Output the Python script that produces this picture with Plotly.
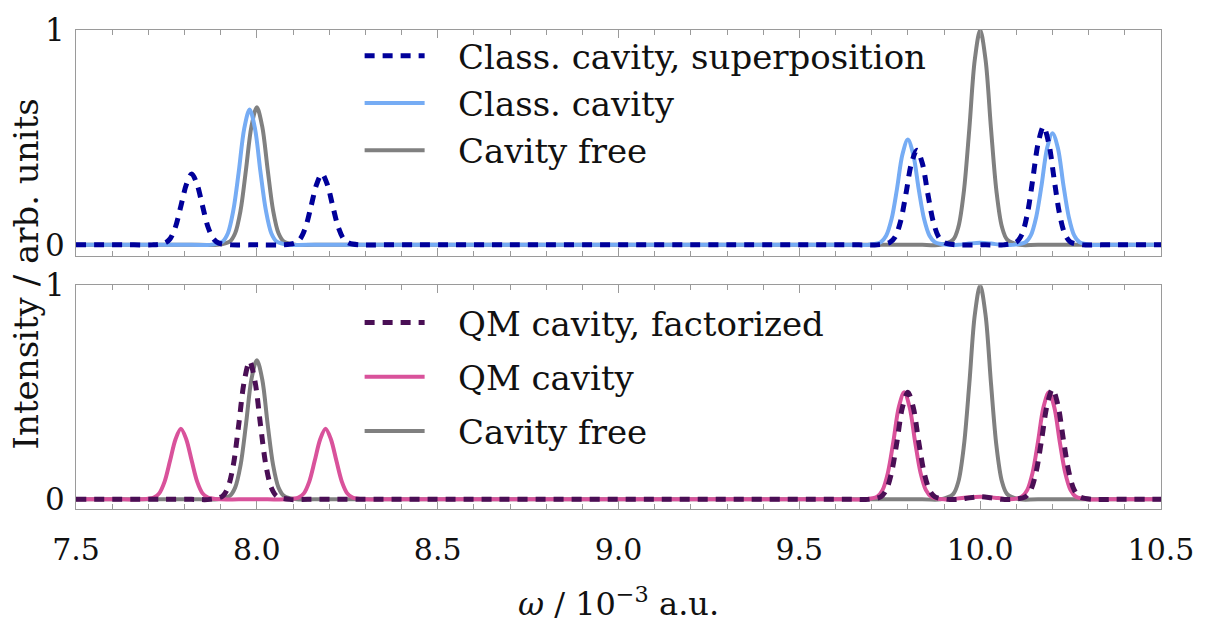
import plotly.graph_objects as go

# ---------------------------------------------------------------- data
# Spectra sampled along omega (10^-3 a.u.); intensities in arbitrary units.

# upper panel: classical cavity
free_top_x = [7.50, 7.84, 7.89,
              7.925, 7.94, 7.955, 7.97, 7.985, 8.00, 8.015, 8.03, 8.045, 8.06, 8.075,
              8.11, 8.16, 9.84, 9.89,
              9.925, 9.94, 9.955, 9.97, 9.985, 10.00, 10.015, 10.03, 10.045, 10.06, 10.075,
              10.11, 10.16, 10.50]
free_top_y = [0, 0, 0,
              0.015, 0.054, 0.16, 0.35, 0.55, 0.64, 0.55, 0.35, 0.16, 0.054, 0.015,
              0, 0, 0, 0,
              0.024, 0.085, 0.25, 0.54, 0.86, 1.0, 0.86, 0.54, 0.25, 0.085, 0.024,
              0, 0, 0]

class_x = [7.50, 7.82, 7.87,
           7.905, 7.92, 7.935, 7.95, 7.965, 7.98, 7.995, 8.01, 8.025, 8.04, 8.055,
           8.09, 8.14, 9.64, 9.69,
           9.725, 9.74, 9.755, 9.77, 9.785, 9.80, 9.815, 9.83, 9.845, 9.86, 9.875,
           9.91, 9.94, 9.97, 10.00, 10.03, 10.06, 10.09,
           10.125, 10.14, 10.155, 10.17, 10.185, 10.20, 10.215, 10.23, 10.245, 10.26, 10.275,
           10.31, 10.36, 10.50]
class_y = [0, 0, 0,
           0.015, 0.054, 0.16, 0.34, 0.54, 0.63, 0.54, 0.34, 0.16, 0.054, 0.015,
           0, 0, 0, 0,
           0.012, 0.042, 0.12, 0.26, 0.42, 0.49, 0.42, 0.26, 0.12, 0.042, 0.012,
           0, 0, 0.006, 0.01, 0.006, 0, 0,
           0.012, 0.044, 0.13, 0.28, 0.45, 0.52, 0.45, 0.28, 0.13, 0.044, 0.012,
           0, 0, 0]

superpos_x = [7.50, 7.66, 7.71,
              7.745, 7.76, 7.775, 7.79, 7.805, 7.82, 7.835, 7.85, 7.865, 7.88, 7.895,
              7.93, 7.98, 8.02, 8.07,
              8.105, 8.12, 8.135, 8.15, 8.165, 8.18, 8.195, 8.21, 8.225, 8.24, 8.255,
              8.29, 8.34, 9.665, 9.715,
              9.75, 9.765, 9.78, 9.795, 9.81, 9.825, 9.84, 9.855, 9.87, 9.885, 9.90,
              9.935, 9.985, 10.015, 10.065,
              10.10, 10.115, 10.13, 10.145, 10.16, 10.175, 10.19, 10.205, 10.22, 10.235, 10.25,
              10.285, 10.335, 10.50]
superpos_y = [0, 0, 0,
              0.008, 0.028, 0.083, 0.18, 0.28, 0.33, 0.28, 0.18, 0.083, 0.028, 0.008,
              0, 0, 0, 0,
              0.008, 0.028, 0.083, 0.18, 0.28, 0.33, 0.28, 0.18, 0.083, 0.028, 0.008,
              0, 0, 0, 0,
              0.011, 0.037, 0.11, 0.24, 0.38, 0.44, 0.38, 0.24, 0.11, 0.037, 0.011,
              0, 0, 0, 0,
              0.013, 0.047, 0.14, 0.30, 0.47, 0.55, 0.47, 0.30, 0.14, 0.047, 0.013,
              0, 0, 0]

# lower panel: quantum cavity
free_bot_x = [7.50, 7.84, 7.89,
              7.925, 7.94, 7.955, 7.97, 7.985, 8.00, 8.015, 8.03, 8.045, 8.06, 8.075,
              8.11, 8.16, 9.84, 9.89,
              9.925, 9.94, 9.955, 9.97, 9.985, 10.00, 10.015, 10.03, 10.045, 10.06, 10.075,
              10.11, 10.16, 10.50]
free_bot_y = [0, 0, 0,
              0.016, 0.055, 0.16, 0.35, 0.56, 0.65, 0.56, 0.35, 0.16, 0.055, 0.016,
              0, 0, 0, 0,
              0.024, 0.085, 0.25, 0.54, 0.86, 1.0, 0.86, 0.54, 0.25, 0.085, 0.024,
              0, 0, 0]

qm_x = [7.50, 7.63, 7.68,
        7.715, 7.73, 7.745, 7.76, 7.775, 7.79, 7.805, 7.82, 7.835, 7.85, 7.865,
        7.90, 7.95, 8.03, 8.08,
        8.115, 8.13, 8.145, 8.16, 8.175, 8.19, 8.205, 8.22, 8.235, 8.25, 8.265,
        8.30, 8.35, 9.63, 9.68,
        9.715, 9.73, 9.745, 9.76, 9.775, 9.79, 9.805, 9.82, 9.835, 9.85, 9.865,
        9.90, 9.95, 10.00, 10.05, 10.08,
        10.115, 10.13, 10.145, 10.16, 10.175, 10.19, 10.205, 10.22, 10.235, 10.25, 10.265,
        10.30, 10.35, 10.50]
qm_y = [0, 0, 0,
        0.008, 0.028, 0.083, 0.18, 0.28, 0.33, 0.28, 0.18, 0.083, 0.028, 0.008,
        0, 0, 0, 0,
        0.008, 0.028, 0.083, 0.18, 0.28, 0.33, 0.28, 0.18, 0.083, 0.028, 0.008,
        0, 0, 0, 0,
        0.012, 0.043, 0.125, 0.27, 0.43, 0.50, 0.43, 0.27, 0.125, 0.043, 0.012,
        0, 0.006, 0.012, 0.006, 0,
        0.012, 0.043, 0.125, 0.27, 0.43, 0.50, 0.43, 0.27, 0.125, 0.043, 0.012,
        0, 0, 0]

fact_x = [7.50, 7.82, 7.87,
          7.905, 7.92, 7.935, 7.95, 7.965, 7.98, 7.995, 8.01, 8.025, 8.04, 8.055,
          8.09, 8.14, 9.64, 9.69,
          9.725, 9.74, 9.755, 9.77, 9.785, 9.80, 9.815, 9.83, 9.845, 9.86, 9.875,
          9.91, 9.94, 9.97, 10.00, 10.03, 10.06, 10.09,
          10.125, 10.14, 10.155, 10.17, 10.185, 10.20, 10.215, 10.23, 10.245, 10.26, 10.275,
          10.31, 10.36, 10.50]
fact_y = [0, 0, 0,
          0.015, 0.055, 0.16, 0.35, 0.55, 0.645, 0.55, 0.35, 0.16, 0.055, 0.015,
          0, 0, 0, 0,
          0.012, 0.043, 0.125, 0.27, 0.43, 0.50, 0.43, 0.27, 0.125, 0.043, 0.012,
          0, 0, 0.007, 0.012, 0.007, 0, 0,
          0.012, 0.044, 0.13, 0.28, 0.44, 0.515, 0.44, 0.28, 0.13, 0.044, 0.012,
          0, 0, 0]

x_ticks = [7.5, 8.0, 8.5, 9.0, 9.5, 10.0, 10.5]
x_tick_text = ["7.5", "8.0", "8.5", "9.0", "9.5", "10.0", "10.5"]

# ---------------------------------------------------------------- style
FONT = "DejaVu Serif"
GRAY = "#808080"
LIGHT_BLUE = "#76acf4"
NAVY = "#00009a"
PINK = "#d9529b"
PURPLE = "#4a0f55"
FRAME = "#9a9a9a"
DASH = "10px,8px"
PAD = "\u00a0\u00a0\u2009"

fig = go.Figure()


def add_curve(x, y, name, color, width, dash, xa, ya, legend, rank):
    fig.add_trace(go.Scatter(
        x=x, y=y, name=PAD + name, mode="lines",
        line=dict(color=color, width=width, dash=dash, shape="spline", smoothing=0.9),
        xaxis=xa, yaxis=ya, legend=legend, legendgroup=legend + name, legendrank=rank,
        hoverinfo="skip",
    ))


# upper panel (drawn bottom-to-top)
add_curve(free_top_x, free_top_y, "Cavity free", GRAY, 4, "solid", "x", "y", "legend", 3)
add_curve(class_x, class_y, "Class. cavity", LIGHT_BLUE, 4, "solid", "x", "y", "legend", 2)
add_curve(superpos_x, superpos_y, "Class. cavity, superposition", NAVY, 5, DASH, "x", "y", "legend", 1)

# lower panel
add_curve(free_bot_x, free_bot_y, "Cavity free", GRAY, 4, "solid", "x2", "y2", "legend2", 3)
add_curve(qm_x, qm_y, "QM cavity", PINK, 4, "solid", "x2", "y2", "legend2", 2)
add_curve(fact_x, fact_y, "QM cavity, factorized", PURPLE, 5, DASH, "x2", "y2", "legend2", 1)

xaxis_common = dict(
    range=[7.5, 10.5], showgrid=False, zeroline=False,
    showline=True, linecolor=FRAME, linewidth=1.2, mirror="allticks",
    ticks="inside", ticklen=8, tickwidth=1, tickcolor=FRAME,
    tickvals=x_ticks, ticktext=x_tick_text,
    minor=dict(dtick=0.1, ticks="inside", ticklen=4.5, tickwidth=1, tickcolor=FRAME, showgrid=False),
    tickfont=dict(family=FONT, size=30, color="#111"),
)
yaxis_common = dict(
    showgrid=False, zeroline=False, showline=True, linecolor=FRAME, linewidth=1.2,
    mirror=True, ticks="", tickvals=[0, 1], ticktext=["0", "1"], ticklabelstandoff=4,
    tickfont=dict(family=FONT, size=31, color="#111"),
)

legend_common = dict(
    font=dict(family=FONT, size=34, color="#111"),
    bgcolor="rgba(0,0,0,0)", borderwidth=0, itemwidth=60,
    xanchor="left", yanchor="top", traceorder="grouped",
    itemclick=False, itemdoubleclick=False,
)

fig.update_layout(
    width=1206, height=628,
    margin=dict(l=76, r=34, t=13, b=119),
    paper_bgcolor="white", plot_bgcolor="white",
    showlegend=True,
    xaxis=dict(xaxis_common, anchor="y", showticklabels=False),
    yaxis=dict(yaxis_common, domain=[0.529, 1.0], range=[-0.05, 1.0], anchor="x"),
    xaxis2=dict(xaxis_common, anchor="y2", matches="x", ticklabelstandoff=14,
                title=dict(text="<i>ω</i> / 10<sup>−3</sup> a.u.",
                           font=dict(family=FONT, size=32, color="#111"), standoff=26)),
    yaxis2=dict(yaxis_common, domain=[0.0, 0.467], range=[-0.045, 1.0], anchor="x2"),
    legend=dict(legend_common, x=0.2614, y=1.006, tracegroupgap=0),
    legend2=dict(legend_common, x=0.2614, y=0.449, tracegroupgap=7),
    annotations=[dict(
        text="Intensity / arb. units", textangle=-90,
        xref="paper", yref="paper", x=-0.046, y=0.49,
        xanchor="center", yanchor="middle", showarrow=False,
        font=dict(family=FONT, size=34, color="#111"),
    )],
)

fig.write_html("out.html")
